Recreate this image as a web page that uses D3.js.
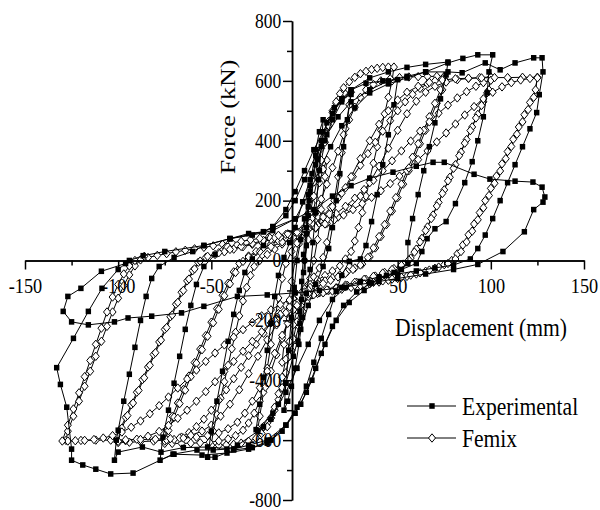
<!DOCTYPE html>
<html>
<head>
<meta charset="utf-8">
<script src="https://cdn.jsdelivr.net/npm/d3@7"></script>
<style>
  body { margin: 0; background: #fff; }
  svg { display: block; }
</style>
</head>
<body>
<div id="chart"></div>
<script>
// ---- data (displacement mm, force kN) ----
const seriesNames = ["Experimental", "Femix"];
const xMajor = [-150, -100, -50, 0, 50, 100, 150];
const xMinor = [-125, -75, -25, 25, 75, 125];
const yMajor = [-800, -600, -400, -200, 0, 200, 400, 600, 800];
const yMinor = [-700, -500, -300, -100, 100, 300, 500, 700];

// Femix, one array per cycle
const femix12 = [[0,0],[2,70],[4,140],[6,205],[8,260],[10,305],[12,335],[11,280],[9,170],[7,70],[5,0],
  [3,-60],[1,-120],[-1,-170],[-3,-220],[-5,-265],[-7,-300],[-9,-325],[-12,-340],[-11,-280],[-9,-170],[-7,-70],[-5,0]];
const femix25 = [[-3,55],[-1,105],[1,150],[3,205],[5,262],[7,320],[9,375],[11,425],[13,465],[15,500],[17,525],[19,543],[22,556],[25,562],
  [24,520],[22,440],[20,360],[18,280],[16,200],[14,125],[12,60],[10,10],
  [8,-25],[5,-55],[2,-80],[0,-105],[-2,-150],[-4,-205],[-6,-262],[-8,-320],[-10,-375],[-12,-425],[-14,-465],[-16,-500],[-18,-525],[-20,-543],[-22,-555],[-25,-562],
  [-24,-520],[-22,-440],[-20,-360],[-18,-280],[-16,-200],[-14,-125],[-12,-60],[-10,-10]];
const femix50 = [[-7,30],[-4,58],[-1,85],[1,115],[3,160],[5,215],[7,275],[9,335],[11,395],[13,450],[15,495],[17,530],[19,557],[21,577],[24,597],[27,612],[30,624],[33,632],[36,638],[39,642],[42,645],[45,646],[48,646],
  [47,600],[45,545],[43,490],[41,435],[39,380],[37,325],[35,270],[33,215],[31,160],[29,110],[27,65],[25,30],[22,5],
  [19,-18],[15,-35],[11,-50],[7,-65],[3,-80],[0,-95],[-2,-125],[-4,-165],[-6,-215],[-8,-270],[-10,-330],[-12,-390],[-14,-445],[-16,-490],[-18,-527],[-20,-555],[-23,-578],[-26,-594],[-30,-604],[-34,-610],[-38,-614],[-42,-616],[-46,-617],[-50,-617],
  [-49,-570],[-47,-515],[-45,-460],[-43,-405],[-41,-350],[-39,-295],[-37,-240],[-35,-185],[-33,-135],[-31,-90],[-29,-50],[-27,-20],[-24,0]];
const femix75a = [[-20,20],[-16,38],[-12,55],[-8,70],[-4,85],[0,100],[3,125],[6,160],[9,205],[12,255],[15,310],[18,365],[21,420],[24,470],[27,512],[30,545],[33,570],[37,588],[41,600],[46,607],[51,611],[56,613],[61,614],[66,615],[71,615],[75,615],
  [74,570],[71,525],[68,480],[65,435],[62,390],[59,345],[56,300],[53,255],[50,210],[47,165],[44,120],[41,80],[38,42],[35,12],
  [31,-12],[27,-25],[23,-37],[19,-48],[15,-58],[11,-68],[7,-78],[3,-90],[0,-105],[-3,-130],[-6,-165],[-9,-210],[-12,-260],[-15,-315],[-18,-370],[-21,-423],[-24,-470],[-27,-510],[-30,-543],[-33,-567],[-37,-585],[-41,-596],[-46,-603],[-51,-607],[-56,-609],[-61,-610],[-66,-611],[-71,-611],[-75,-611],
  [-74,-566],[-71,-521],[-68,-476],[-65,-431],[-62,-386],[-59,-341],[-56,-296],[-53,-251],[-50,-206],[-47,-161],[-44,-116],[-41,-76],[-38,-38],[-35,-10]];
const femix75b = [[-30,15],[-26,30],[-22,43],[-18,55],[-14,66],[-10,77],[-6,88],[-2,98],[2,110],[6,128],[10,150],[14,177],[18,208],[22,243],[26,280],[30,318],[34,357],[38,395],[42,432],[46,467],[50,500],[54,530],[58,555],[62,575],[66,590],[70,600],[75,606],
  [73,570],[70,525],[67,480],[64,435],[61,390],[58,345],[55,300],[52,255],[49,210],[46,165],[43,120],[40,80],[37,42],[34,10],
  [30,-15],[26,-30],[22,-43],[18,-55],[14,-66],[10,-77],[6,-88],[2,-98],[-2,-110],[-6,-128],[-10,-150],[-14,-177],[-18,-208],[-22,-243],[-26,-280],[-30,-318],[-34,-357],[-38,-395],[-42,-432],[-46,-467],[-50,-500],[-54,-530],[-58,-555],[-62,-575],[-66,-590],[-70,-598],[-75,-603],
  [-73,-568],[-70,-523],[-67,-478],[-64,-433],[-61,-388],[-58,-343],[-55,-298],[-52,-253],[-49,-208],[-46,-163],[-43,-118],[-40,-78],[-37,-40],[-33,-3]];
const femix100a = [[-30,12],[-24,30],[-18,46],[-12,62],[-6,78],[0,93],[6,108],[12,124],[18,145],[24,175],[30,215],[35,260],[40,315],[45,375],[50,435],[55,490],[60,532],[65,562],[70,582],[76,596],[82,604],[88,608],[94,611],[100,613],
  [99,570],[96,530],[93,488],[90,446],[87,404],[84,362],[81,320],[78,278],[75,236],[72,194],[69,152],[66,112],[63,74],[60,38],[57,8],
  [53,-12],[48,-27],[43,-40],[38,-52],[33,-63],[28,-73],[23,-83],[18,-92],[13,-100],[8,-108],[4,-115],[0,-125],[-5,-145],[-10,-175],[-15,-215],[-20,-265],[-25,-320],[-30,-378],[-35,-432],[-40,-480],[-45,-520],[-50,-550],[-55,-570],[-61,-584],[-67,-593],[-74,-599],[-81,-603],[-88,-605],[-94,-607],[-100,-608],
  [-99,-565],[-96,-524],[-93,-482],[-90,-440],[-87,-398],[-84,-356],[-81,-314],[-78,-272],[-75,-230],[-72,-188],[-69,-146],[-66,-106],[-63,-68],[-60,-34],[-57,-6]];
const femix100b = [[-53,10],[-48,20],[-43,29],[-38,38],[-33,46],[-28,54],[-23,62],[-18,70],[-13,78],[-8,86],[-3,94],[2,104],[7,118],[12,136],[17,157],[22,181],[27,208],[32,237],[37,268],[42,300],[47,333],[52,366],[57,399],[62,432],[67,463],[72,492],[77,519],[82,543],[87,564],[92,582],[96,594],[100,602],
  [98,560],[95,518],[92,476],[89,434],[86,392],[83,350],[80,308],[77,266],[74,224],[71,182],[68,140],[65,100],[62,62],[59,28],[56,2],
  [52,-16],[47,-30],[42,-42],[37,-53],[32,-63],[27,-73],[22,-82],[17,-91],[12,-100],[7,-110],[2,-120],[-3,-135],[-8,-155],[-13,-180],[-18,-208],[-23,-238],[-28,-270],[-33,-303],[-38,-337],[-43,-371],[-48,-405],[-53,-438],[-58,-470],[-63,-500],[-68,-527],[-73,-551],[-78,-571],[-84,-587],[-90,-597],[-96,-602],[-100,-604],
  [-98,-560],[-95,-518],[-92,-476],[-89,-434],[-86,-392],[-83,-350],[-80,-308],[-77,-266],[-74,-224],[-71,-182],[-68,-140],[-65,-100],[-62,-62],[-59,-28],[-56,-2]];
const femix125a = [[-52,14],[-46,26],[-40,37],[-34,47],[-28,57],[-22,67],[-16,77],[-10,87],[-5,95],[0,104],[5,120],[10,145],[15,180],[20,225],[25,280],[30,340],[35,400],[40,455],[45,500],[50,536],[55,562],[61,582],[67,595],[74,603],[81,607],[88,609],[95,610],[102,611],[109,611],[117,612],[125,612],
  [124,570],[121,528],[118,487],[115,446],[112,405],[109,364],[106,323],[103,282],[100,241],[97,200],[94,160],[91,122],[88,86],[85,52],[82,22],[79,0],
  [75,-14],[70,-26],[65,-36],[60,-45],[55,-53],[50,-60],[45,-66],[40,-72],[35,-78],[30,-84],[25,-90],[20,-96],[15,-102],[10,-108],[5,-114],[0,-122],[-4,-150],[-8,-195],[-12,-250],[-16,-310],[-20,-370],[-24,-425],[-28,-470],[-32,-510],[-36,-540],[-41,-562],[-46,-576],[-52,-585],[-58,-590],[-65,-593],[-72,-595],[-80,-597],[-88,-598],[-96,-599],[-104,-600],[-112,-600],[-120,-601],[-128,-601],
  [-127,-570],[-124,-520],[-121,-470],[-118,-420],[-115,-370],[-112,-320],[-109,-270],[-106,-220],[-103,-172],[-100,-126],[-97,-84],[-94,-48],[-91,-18],[-88,2]];
const femix125b = [[-84,10],[-79,17],[-74,23],[-69,29],[-64,34],[-59,39],[-54,44],[-49,49],[-44,54],[-39,59],[-34,64],[-29,69],[-24,74],[-19,79],[-14,84],[-9,89],[-4,94],[1,100],[6,110],[11,122],[16,136],[21,152],[26,170],[31,190],[36,211],[41,233],[46,257],[51,282],[56,309],[61,337],[66,366],[71,396],[76,426],[81,456],[86,486],[91,514],[96,540],[101,562],[106,580],[111,594],[116,603],[121,608],[125,610],
  [123,545],[120,504],[117,463],[114,422],[111,381],[108,340],[105,299],[102,258],[99,217],[96,176],[93,136],[90,98],[87,62],[84,30],[81,5],
  [77,-10],[72,-22],[67,-32],[62,-41],[57,-49],[52,-56],[47,-62],[42,-68],[37,-73],[32,-78],[27,-83],[22,-88],[17,-93],[12,-98],[7,-104],[2,-111],[-3,-120],[-8,-132],[-13,-147],[-18,-165],[-23,-185],[-28,-207],[-33,-231],[-38,-256],[-43,-282],[-48,-309],[-53,-337],[-58,-366],[-63,-396],[-68,-426],[-73,-456],[-78,-485],[-83,-512],[-88,-536],[-93,-557],[-98,-573],[-103,-585],[-108,-593],[-113,-598],[-118,-601],[-123,-602],[-127,-603],[-130,-603],
  [-127,-550],[-124,-496],[-121,-442],[-118,-388],[-115,-334],[-112,-280],[-109,-226],[-106,-172],[-103,-122],[-100,-80],[-97,-45],[-94,-18],[-91,0],[-86,14]];

// Experimental, one array per amplitude group
const expSmall = [[0,0],[1,90],[2,180],[3,250],[2,150],[1,50],[-0.5,-40],[-1.5,-130],[-2.5,-210],[-3.5,-270],[-2.5,-170],[-1.5,-70],[-0.5,20],
  [1,110],[2.5,200],[4,290],[6,370],[8,430],[10,470],[9,380],[7.5,270],[6,160],[4.5,60],[3,-30],[1,-110],[-1,-190],[-3,-280],[-5,-360],[-7,-420],[-9,-470],[-11,-500],
  [-10,-410],[-8.5,-300],[-7,-190],[-5.5,-90],[-4,0],[-2,70]];
const exp25 = [[0,139],[3,230],[6,320],[9,400],[12,460],[16,510],[20,540],[25,555],[23,470],[21,380],[19,290],[17,200],[15,110],[13,40],[10,-20],[6,-80],[2,-150],
  [-2,-230],[-6,-320],[-10,-410],[-14,-480],[-18,-530],[-22,-555],[-26,-565],[-24,-480],[-22,-390],[-20,-300],[-18,-210],[-16,-120],[-14,-50],[-11,10],[-8,60],[-5,110]];
const exp50 = [[-1,196],[3,270],[7,338],[11,400],[15,470],[20,530],[25,570],[33,592],[42,600],[50,604],[48,520],[45,420],[42,320],[39,220],[36,130],[33,50],[30,5],[24,-3],
  [20,-50],[17,-103],[13,-180],[9,-260],[5,-340],[1,-420],[-4,-490],[-10,-550],[-18,-600],[-28,-625],[-38,-633],[-48,-657],[-52,-657],
  [-50,-570],[-47,-470],[-44,-370],[-41,-270],[-38,-180],[-35,-100],[-32,-40],[-28,5],[-22,50],[-17,113],[-10,170]];
const exp75 = [[-5,230],[0,300],[5,370],[10,430],[15,490],[20,540],[25,570],[35,610],[45,630],[55,645],[65,655],[77,663],[76,620],[73,540],[70,460],[67,380],[64,300],[61,220],[58,140],[55.5,60],[55.5,-10],
  [48,-40],[40,-70],[32,-100],[24,-140],[17,-200],[11,-280],[6,-360],[1,-440],[-5,-510],[-12,-570],[-20,-610],[-30,-630],[-41.6,-643],[-55,-650],[-70,-647],[-77.5,-667],
  [-76,-590],[-73,-500],[-70,-410],[-67,-320],[-64,-230],[-61,-150],[-58,-80],[-54,-20],[-48,20],[-40,73],[-30,90],[-22,96],[-17,113]];
const exp100 = [[-10,150],[-5,200],[0,270],[6,350],[12,420],[18,480],[25,530],[35,570],[45,600],[55,615],[65,630],[77,660],[85,675],[93,687],[101,687],
  [99,630],[98,560],[96,480],[93,400],[90,330],[86,260],[81,190],[76,130],[70,106],[65.8,73],[63,30],[60,-10],[52,-30],[44,-50],[36,-75],[28,-105],[21,-150],[15,-220],[9,-310],[4,-400],[-2,-480],[-10,-550],[-20,-600],[-30,-617],[-38,-630],
  [-52,-623],[-65,-625],[-77,-640],[-87,-623],[-100,-640],[-102,-667],[-101,-600],[-100,-567],[-97,-470],[-94,-380],[-91,-290],[-88,-200],[-85,-120],[-82,-60],[-78,-20],[-70,10],[-60,30],[-54,50],[-40,73],[-28,85],[-17,100],[-5,139]];
const exp125 = [[2,220],[8,300],[14,380],[20,450],[27,510],[35,560],[45,590],[55,610],[65,630],[77,630],[84.6,627],[97,660],[105,637],[113,660],[123,677],[127.5,677],
  [128,630],[126,554],[124.6,494],[121,440],[117,380],[113,320],[109,260],[105,200],[101,140],[97,85],[93,40],[89,5],[80,-15],[70,-25],[60,-35],[50,-45],[40,-55],[30,-70],[22,-90],[15,-130],[8,-200],[2,-280],[-4,-360],[-10,-440],[-17,-510],[-25,-570],[-36,-617],
  [-41.6,-630],[-49,-633],[-57.7,-633],[-70.6,-647],[-92,-710],[-104,-713],[-112,-697],[-119,-683],[-125,-667],[-125,-630],[-127.6,-490],[-131,-414],[-133,-358],[-124,-260],[-116,-170],[-108.7,-93],[-100,-30],[-94,0],[-86.6,16]];
const expLast = [[-75,30],[-54,50],[-40,73],[-22,96],[-5,139],[5,170],[15,215],[25,250],[35,275],[47.5,295],[60,315],[69,328],[75,328],[91,288],[99.5,272],[113,265],[122.6,262],[127.5,245],[129,212],[128,195],[123,170],[118,96],[106.5,30],[93,-13],
  [80,-30],[65,-45],[50,-60],[35,-75],[20,-90],[8,-100],[-5,-108],[-20,-115],[-36,-120],[-54,-153],[-66,-175],[-82,-186],[-94.7,-192],[-102,-205],[-116,-215],[-125,-205],[-129.5,-170],[-127,-120],[-120,-93],[-109,-36],[-96,-10]];

const femix = [].concat(femix12, femix25, femix50, femix75a, femix75b, femix100a, femix100b, femix125a, femix125b);
const experimental = [].concat(expSmall, exp25, exp50, exp75, exp100, exp125, expLast);

// ---- chart ----
const W = 600, H = 510;
const FONT = "'Liberation Serif', 'Times New Roman', serif";
const squeeze = 0.83; // text in the original is narrower than normal

const svg = d3.select("#chart").append("svg")
  .attr("width", W)
  .attr("height", H);

const x = d3.scaleLinear().domain([-150, 150]).range([25, 584]);
const y = d3.scaleLinear().domain([-800, 800]).range([500, 21]);
const yAxisAt = -6.7; // y axis is drawn a little left of zero

const line = d3.line().x(d => x(d[0])).y(d => y(d[1]));
const diamond = "M0,-4.2L3.5,0L0,4.2L-3.5,0Z";

// Femix series
svg.append("path")
  .datum(femix)
  .attr("fill", "none")
  .attr("stroke", "#000")
  .attr("stroke-width", 1)
  .attr("d", line);

svg.selectAll(".fm")
  .data(femix)
  .enter().append("path")
  .attr("class", "fm")
  .attr("d", diamond)
  .attr("transform", d => `translate(${x(d[0])},${y(d[1])})`)
  .attr("fill", "#fff")
  .attr("stroke", "#000")
  .attr("stroke-width", 1);

// Experimental series
svg.append("path")
  .datum(experimental)
  .attr("fill", "none")
  .attr("stroke", "#000")
  .attr("stroke-width", 1)
  .attr("d", line);

svg.selectAll(".ex")
  .data(experimental)
  .enter().append("rect")
  .attr("class", "ex")
  .attr("x", d => x(d[0]) - 2.7)
  .attr("y", d => y(d[1]) - 2.8)
  .attr("width", 5.4)
  .attr("height", 5.6)
  .attr("fill", "#000");

// X axis (through y = 0)
const xg = svg.append("g").attr("transform", `translate(0,${y(0)})`);
xg.call(d3.axisBottom(x).tickValues(xMinor).tickSize(5).tickSizeOuter(0).tickFormat(""));
xg.append("g").call(d3.axisBottom(x).tickValues(xMajor).tickSize(9).tickSizeOuter(0)
  .tickFormat(d => d === 0 ? "" : String(d)));
xg.selectAll("path, line").attr("stroke", "#000").attr("stroke-width", 1.5);
xg.selectAll("text")
  .attr("y", 17)
  .attr("font-family", FONT)
  .attr("font-size", 22)
  .attr("fill", "#000")
  .attr("transform", `scale(${squeeze},1)`);

// Y axis
const yg = svg.append("g").attr("transform", `translate(${x(yAxisAt)},0)`);
yg.call(d3.axisLeft(y).tickValues(yMinor).tickSize(5).tickSizeOuter(0).tickFormat(""));
yg.append("g").call(d3.axisLeft(y).tickValues(yMajor).tickSize(9).tickSizeOuter(0)
  .tickFormat(d => String(d)));
yg.selectAll("path, line").attr("stroke", "#000").attr("stroke-width", 1.5);
yg.selectAll("text")
  .attr("x", -13)
  .attr("dy", "0.3em")
  .attr("font-family", FONT)
  .attr("font-size", 21)
  .attr("fill", "#000")
  .attr("transform", `scale(${squeeze},1)`);

// Axis titles
svg.append("text")
  .attr("transform", `translate(481,336) scale(${squeeze},1)`)
  .attr("text-anchor", "middle")
  .attr("font-family", FONT)
  .attr("font-size", 26)
  .text("Displacement (mm)");

svg.append("text")
  .attr("transform", `translate(235,117) scale(${squeeze},1) rotate(-90)`)
  .attr("text-anchor", "middle")
  .attr("font-family", FONT)
  .attr("font-size", 26)
  .text("Force (kN)");

// Legend
const legend = svg.append("g");
seriesNames.forEach((name, i) => {
  const ly = 406 + i * 32;
  legend.append("line")
    .attr("x1", 407).attr("x2", 456)
    .attr("y1", ly).attr("y2", ly)
    .attr("stroke", "#000").attr("stroke-width", 1);
  if (i === 0) {
    legend.append("rect")
      .attr("x", 429.3).attr("y", ly - 2.8)
      .attr("width", 5.4).attr("height", 5.6)
      .attr("fill", "#000");
  } else {
    legend.append("path")
      .attr("d", diamond)
      .attr("transform", `translate(432,${ly})`)
      .attr("fill", "#fff").attr("stroke", "#000");
  }
  legend.append("text")
    .attr("transform", `translate(462,${ly + 9}) scale(${squeeze},1)`)
    .attr("font-family", FONT)
    .attr("font-size", 26)
    .text(name);
});
</script>
</body>
</html>
